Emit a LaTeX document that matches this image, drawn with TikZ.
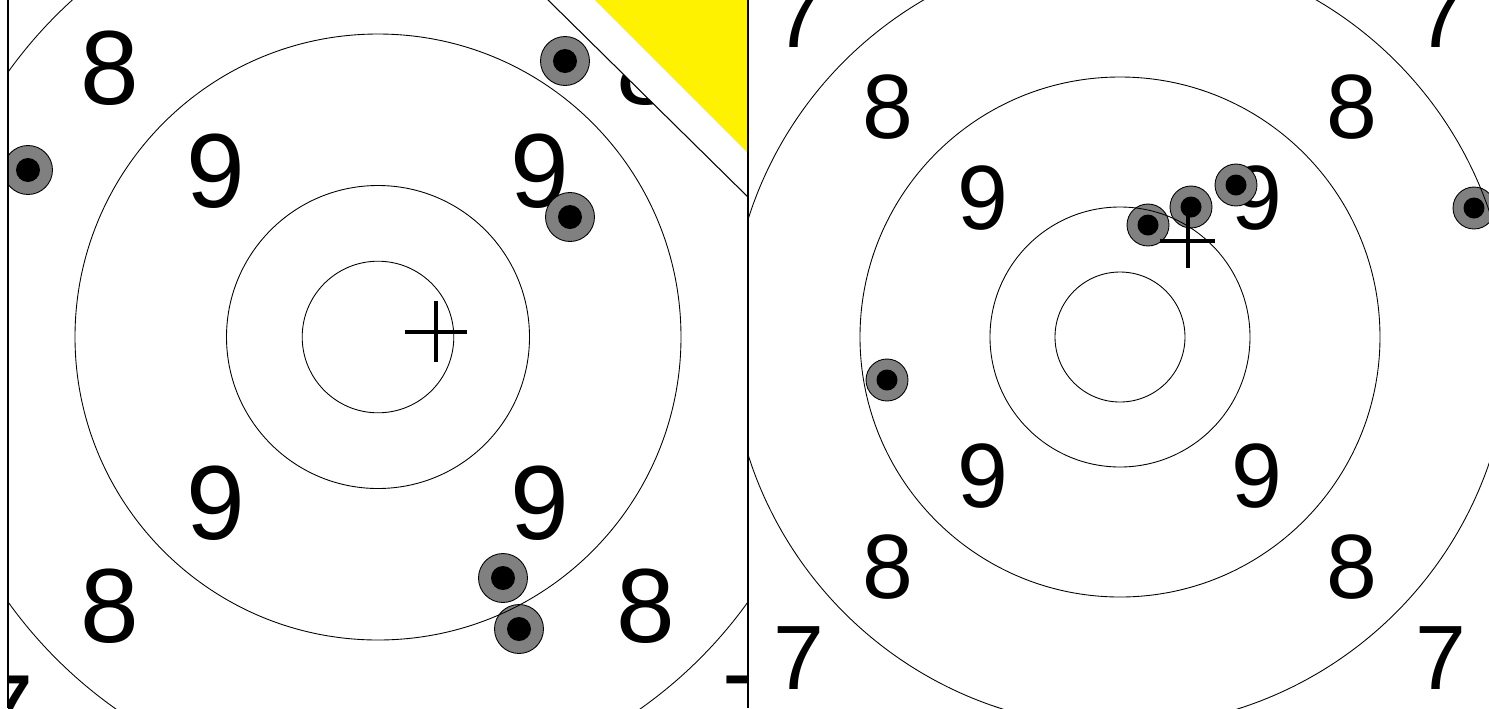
\documentclass[tikz,border=0pt]{standalone}
\usepackage{fontspec}
\setmainfont{Liberation Sans}
\begin{document}
\begin{tikzpicture}[
    x=0.02cm, y=-0.02cm,
    ring/.style={draw, line width=0.5pt},
    bigdigit/.style={inner sep=0pt, font=\fontsize{60}{60}\selectfont},
    smalldigit/.style={inner sep=0pt, font=\fontsize{52}{52}\selectfont},
    shot/.style={circle, draw, fill=gray, line width=0.5pt, minimum size=0.98cm, inner sep=0pt,
        path picture={\fill[black] (path picture bounding box.center) circle (0.24cm);}},
    smallshot/.style={shot, minimum size=0.84cm,
        path picture={\fill[black] (path picture bounding box.center) circle (0.21cm);}},
    cross/.style={line width=2pt},
    frame/.style={line width=0.8pt}
]
\useasboundingbox (0,0) rectangle (1489,708);

% Left target
\begin{scope}
\clip (8,0) rectangle (748,708);
\begin{scope}[shift={(378,337)}]
\foreach \sx/\sy [count=\i] in {-1/-1,1/-1,-1/1,1/1} {
    \node[bigdigit] (l9-\i) at (162*\sx,166*\sy) {9};
    \node[bigdigit] (l8-\i) at (268*\sx,269*\sy) {8};
    \node[bigdigit] (l7-\i) at (373*\sx,375*\sy) {7};
}
\end{scope}
% Hits
\node[shot] (lhit1) at (565,61) {};
\node[shot] (lhit2) at (28,170) {};
\node[shot] (lhit3) at (570,217) {};
\node[shot] (lhit4) at (503,578) {};
\node[shot] (lhit5) at (519,629) {};
\begin{scope}[shift={(378,337)}]
\foreach \r in {75.8,151.5,303,455}
    \draw[ring] (0,0) circle (\r);
\end{scope}
% Corner cut-off
\fill[white] (543,-5) -- (753,202) -- (753,-5) -- cycle;
\draw[line width=0.6pt] (543,-5) -- (753,202);
\fill[yellow] (590,-5) -- (753,-5) -- (753,158) -- cycle;
% Aim mark
\draw[cross] (405,332) -- (467,332);
\draw[cross] (436,301) -- (436,362);
\end{scope}

% Right target
\begin{scope}
\clip (748,0) rectangle (1489,708);
\begin{scope}[shift={(1120,337)}]
\foreach \sx/\sy [count=\i] in {-1/-1,1/-1,-1/1,1/1} {
    \node[smalldigit] (r9-\i) at (137*\sx,139*\sy) {9};
    \node[smalldigit] (r8-\i) at (232*\sx,230*\sy) {8};
    \node[smalldigit] (r7-\i) at (321*\sx,321*\sy) {7};
}
\end{scope}
% Hits
\node[smallshot] (rhit1) at (1148,225) {};
\node[smallshot] (rhit2) at (1191,207) {};
\node[smallshot] (rhit3) at (1236,185) {};
\node[smallshot] (rhit4) at (887,380) {};
\node[smallshot] (rhit5) at (1474,208) {};
\begin{scope}[shift={(1120,337)}]
\foreach \r in {65,130,260,390}
    \draw[ring] (0,0) circle (\r);
\end{scope}
% Aim mark
\draw[cross] (1160,241) -- (1215,241);
\draw[cross] (1188,213) -- (1188,268);
\end{scope}

% Panel borders
\draw[frame] (8,0) -- (8,708);
\draw[frame] (748,0) -- (748,708);
\end{tikzpicture}
\end{document}
